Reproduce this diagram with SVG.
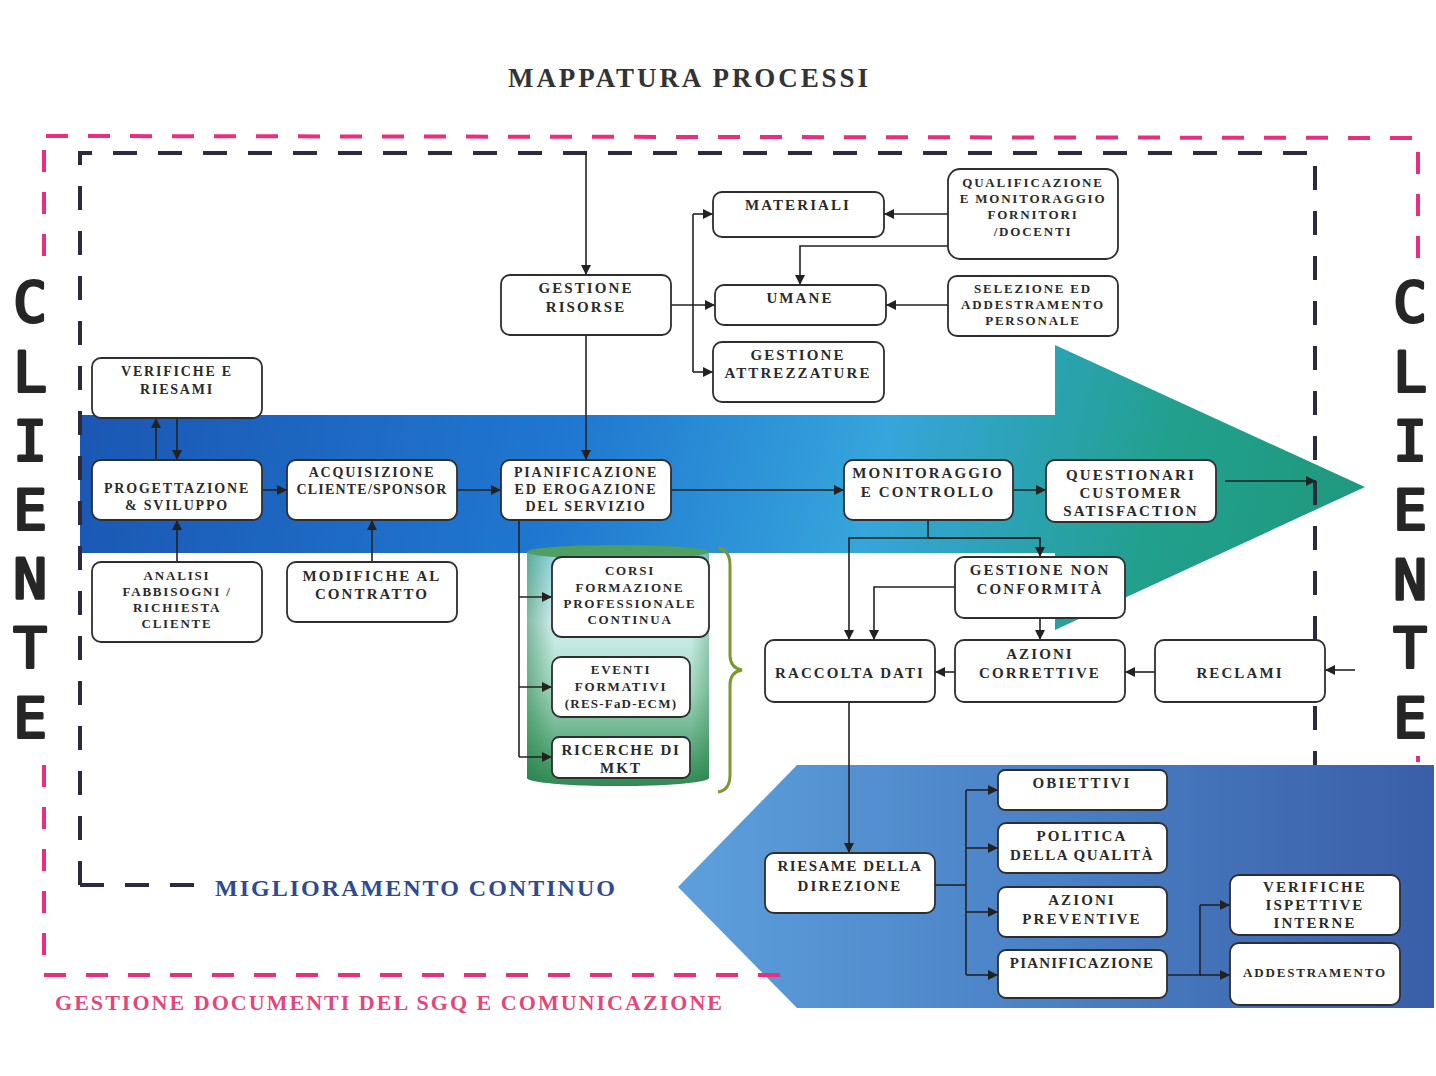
<svg xmlns="http://www.w3.org/2000/svg" width="1436" height="1076" viewBox="0 0 1436 1076">
<style>
.n{fill:#fff;stroke:#2e2e2e;stroke-width:1.8}
.t{font-family:"Liberation Serif","Times New Roman",serif;font-weight:bold;font-size:14px;letter-spacing:1.8px;fill:#2a2a2a;text-anchor:middle}
.s{font-size:13px;letter-spacing:1.8px}
.b{font-size:15px;letter-spacing:2.1px}
.c{fill:none;stroke:#222;stroke-width:1.6}
.ca{fill:none;stroke:#222;stroke-width:1.6;marker-end:url(#ah)}
.pk{fill:none;stroke:#ea2d7c;stroke-width:4;stroke-dasharray:22 20}
.dk{fill:none;stroke:#2b2a3e;stroke-width:4;stroke-dasharray:24 21}
.cl{font-family:"DejaVu Sans Mono",monospace;font-size:56px;fill:#262626;stroke:#262626;stroke-width:3;stroke-linejoin:round;text-anchor:middle}
</style>
<defs>
<marker id="ah" viewBox="0 0 10 10" refX="10" refY="5" markerWidth="11" markerHeight="10" markerUnits="userSpaceOnUse" orient="auto"><path d="M0,0 L10,5 L0,10 z" fill="#222"/></marker>
<linearGradient id="band" gradientUnits="userSpaceOnUse" x1="80" y1="350" x2="1300" y2="640">
<stop offset="0" stop-color="#1a56b2"/><stop offset="0.4" stop-color="#2078d0"/><stop offset="0.64" stop-color="#36a5dc"/><stop offset="0.86" stop-color="#22a08e"/><stop offset="1" stop-color="#1f9a80"/>
</linearGradient>
<linearGradient id="barrow" gradientUnits="userSpaceOnUse" x1="678" y1="0" x2="1436" y2="0">
<stop offset="0" stop-color="#5d9fdc"/><stop offset="0.5" stop-color="#4a80c4"/><stop offset="1" stop-color="#3a5ea8"/>
</linearGradient>
<linearGradient id="cyl" x1="0" y1="0" x2="0" y2="1">
<stop offset="0" stop-color="#8fd4e2"/><stop offset="0.3" stop-color="#d4f0f2"/><stop offset="0.6" stop-color="#9fd6bc"/><stop offset="1" stop-color="#2e8a52"/>
</linearGradient>
<linearGradient id="cylh" x1="0" y1="0" x2="1" y2="0">
<stop offset="0" stop-color="#1f7a40" stop-opacity="0.45"/><stop offset="0.15" stop-color="#1f7a40" stop-opacity="0"/><stop offset="0.9" stop-color="#1f7a40" stop-opacity="0"/><stop offset="1" stop-color="#1f7a40" stop-opacity="0.3"/>
</linearGradient>
</defs>
<rect width="1436" height="1076" fill="#fff"/>

<text x="508" y="87" textLength="360" lengthAdjust="spacing" style="font-family:'Liberation Serif',serif;font-weight:bold;font-size:27px;fill:#333">MAPPATURA PROCESSI</text>

<!-- background shapes -->
<polygon points="80,415 1055,415 1055,345 1365,487 1055,630 1055,553 80,553" fill="url(#band)"/>
<polygon points="678,887 797,765 1434,765 1434,1008 797,1008" fill="url(#barrow)"/>
<g id="cylinder">
<path d="M527,552 L527,778 A91,8 0 0 0 709,778 L709,552 Z" fill="url(#cyl)"/>
<path d="M527,552 L527,778 A91,8 0 0 0 709,778 L709,552 Z" fill="url(#cylh)"/>
<ellipse cx="618" cy="552" rx="91" ry="7" fill="#4f9e62"/>
</g>
<path d="M718,548 Q730,550 730,565 L730,655 Q730,668 742,670 Q730,672 730,685 L730,775 Q730,790 718,792" fill="none" stroke="#7a9a2e" stroke-width="3"/>

<!-- borders -->
<g id="borders">
<path class="pk" d="M46,136 L1418,138 L1418,262"/>
<path class="pk" d="M44,150 L44,262"/>
<path class="pk" d="M44,765 L44,975 L800,975"/>
<path class="pk" d="M1418,756 L1418,762"/>
<path class="dk" d="M80,885 L80,153 L1315,153 L1315,765"/>
<path class="dk" d="M80,885 L200,885"/>
</g>

<g id="cliente-left">
<text class="cl"><tspan x="30" y="321">C</tspan><tspan x="30" y="391">L</tspan><tspan x="30" y="460">I</tspan><tspan x="30" y="529">E</tspan><tspan x="30" y="598">N</tspan><tspan x="30" y="667">T</tspan><tspan x="30" y="737">E</tspan></text>
</g>
<g id="cliente-right">
<text class="cl"><tspan x="1410" y="321">C</tspan><tspan x="1410" y="391">L</tspan><tspan x="1410" y="460">I</tspan><tspan x="1410" y="529">E</tspan><tspan x="1410" y="599">N</tspan><tspan x="1410" y="667">T</tspan><tspan x="1410" y="737">E</tspan></text>
</g>

<text x="215" y="896" textLength="400" lengthAdjust="spacing" style="font-family:'Liberation Serif',serif;font-weight:bold;font-size:24px;fill:#2e4b8e">MIGLIORAMENTO CONTINUO</text>
<text x="55" y="1010" textLength="667" lengthAdjust="spacing" style="font-family:'Liberation Serif',serif;font-weight:bold;font-size:22px;fill:#e4467c">GESTIONE DOCUMENTI DEL SGQ E COMUNICAZIONE</text>

<!-- connectors -->
<g id="connectors">
<path class="ca" d="M586,153 L586,275"/>
<path class="ca" d="M586,335 L586,460"/>
<path class="ca" d="M671,305 L715,305"/>
<path class="c" d="M693,214 L693,372"/>
<path class="ca" d="M693,214 L713,214"/>
<path class="ca" d="M693,372 L713,372"/>
<path class="ca" d="M948,214 L884,214"/>
<path class="ca" d="M948,246 L800,246 L800,285"/>
<path class="ca" d="M948,305 L886,305"/>
<path class="ca" d="M156,460 L156,418"/>
<path class="ca" d="M177,418 L177,460"/>
<path class="ca" d="M177,562 L177,520"/>
<path class="ca" d="M262,490 L287,490"/>
<path class="ca" d="M372,562 L372,520"/>
<path class="ca" d="M457,490 L501,490"/>
<path class="ca" d="M671,490 L844,490"/>
<path class="ca" d="M1013,490 L1046,490"/>
<path class="ca" d="M1225,481 L1316,481"/>
<path class="c" d="M519,520 L519,757"/>
<path class="ca" d="M519,597 L552,597"/>
<path class="ca" d="M519,687 L552,687"/>
<path class="ca" d="M519,757 L552,757"/>
<path class="c" d="M928,520 L928,538"/>
<path class="ca" d="M1040,538 L849,538 L849,640"/>
<path class="ca" d="M928,538 L1040,538 L1040,557"/>
<path class="ca" d="M955,587 L874,587 L874,640"/>
<path class="ca" d="M1040,618 L1040,640"/>
<path class="ca" d="M955,672 L935,672"/>
<path class="ca" d="M1155,672 L1125,672"/>
<path class="ca" d="M1355,670 L1325,670"/>
<path class="ca" d="M849,702 L849,853"/>
<path class="c" d="M935,885 L966,885"/>
<path class="c" d="M966,790 L966,975"/>
<path class="ca" d="M966,790 L998,790"/>
<path class="ca" d="M966,848 L998,848"/>
<path class="ca" d="M966,912 L998,912"/>
<path class="ca" d="M966,975 L998,975"/>
<path class="c" d="M1167,975 L1200,975 L1200,905"/>
<path class="ca" d="M1200,905 L1230,905"/>
<path class="ca" d="M1200,975 L1230,975"/>
</g>

<!-- nodes -->
<g id="verifiche-riesami"><rect class="n" x="92" y="358" width="170" height="60" rx="9"/><text class="t" x="177" y="376">VERIFICHE E</text><text class="t" x="177" y="394">RIESAMI</text></g>
<g id="progettazione"><rect class="n" x="92" y="460" width="170" height="60" rx="9"/><text class="t" x="177" y="493">PROGETTAZIONE</text><text class="t" x="177" y="510">&amp; SVILUPPO</text></g>
<g id="analisi"><rect class="n" x="92" y="562" width="170" height="80" rx="9"/><text class="t s" x="177" y="580">ANALISI</text><text class="t s" x="177" y="596">FABBISOGNI /</text><text class="t s" x="177" y="612">RICHIESTA</text><text class="t s" x="177" y="628">CLIENTE</text></g>
<g id="acquisizione"><rect class="n" x="287" y="460" width="170" height="60" rx="9"/><text class="t" x="372" y="477">ACQUISIZIONE</text><text class="t" x="372" y="494" style="letter-spacing:1.2px">CLIENTE/SPONSOR</text></g>
<g id="modifiche"><rect class="n" x="287" y="562" width="170" height="60" rx="9"/><text class="t b" x="372" y="581">MODIFICHE AL</text><text class="t b" x="372" y="599">CONTRATTO</text></g>
<g id="gestione-risorse"><rect class="n" x="501" y="275" width="170" height="60" rx="9"/><text class="t b" x="586" y="293">GESTIONE</text><text class="t b" x="586" y="312">RISORSE</text></g>
<g id="pianificazione-erogazione"><rect class="n" x="501" y="460" width="170" height="60" rx="9"/><text class="t" x="586" y="477">PIANIFICAZIONE</text><text class="t" x="586" y="494">ED EROGAZIONE</text><text class="t" x="586" y="511">DEL SERVIZIO</text></g>
<g id="materiali"><rect class="n" x="713" y="192" width="171" height="45" rx="9"/><text class="t b" x="798" y="210">MATERIALI</text></g>
<g id="umane"><rect class="n" x="715" y="285" width="171" height="40" rx="9"/><text class="t b" x="800" y="303">UMANE</text></g>
<g id="attrezzature"><rect class="n" x="713" y="342" width="171" height="60" rx="9"/><text class="t b" x="798" y="360">GESTIONE</text><text class="t b" x="798" y="378">ATTREZZATURE</text></g>
<g id="qualificazione"><rect class="n" x="948" y="169" width="170" height="90" rx="12"/><text class="t s" x="1033" y="187">QUALIFICAZIONE</text><text class="t s" x="1033" y="203">E MONITORAGGIO</text><text class="t s" x="1033" y="219">FORNITORI</text><text class="t s" x="1033" y="236">/DOCENTI</text></g>
<g id="selezione"><rect class="n" x="948" y="276" width="170" height="60" rx="9"/><text class="t s" x="1033" y="293">SELEZIONE ED</text><text class="t s" x="1033" y="309">ADDESTRAMENTO</text><text class="t s" x="1033" y="325">PERSONALE</text></g>
<g id="monitoraggio"><rect class="n" x="844" y="460" width="169" height="60" rx="9"/><text class="t b" x="928" y="478">MONITORAGGIO</text><text class="t b" x="928" y="497">E CONTROLLO</text></g>
<g id="questionari"><rect class="n" x="1046" y="460" width="170" height="62" rx="9"/><text class="t b" x="1131" y="480">QUESTIONARI</text><text class="t b" x="1131" y="498">CUSTOMER</text><text class="t b" x="1131" y="516">SATISFACTION</text></g>
<g id="gestione-nc"><rect class="n" x="955" y="557" width="170" height="61" rx="9"/><text class="t b" x="1040" y="575">GESTIONE NON</text><text class="t b" x="1040" y="594">CONFORMITÀ</text></g>
<g id="raccolta-dati"><rect class="n" x="765" y="640" width="170" height="62" rx="9"/><text class="t b" x="850" y="678">RACCOLTA DATI</text></g>
<g id="azioni-correttive"><rect class="n" x="955" y="640" width="170" height="62" rx="9"/><text class="t b" x="1040" y="659">AZIONI</text><text class="t b" x="1040" y="678">CORRETTIVE</text></g>
<g id="reclami"><rect class="n" x="1155" y="640" width="170" height="62" rx="9"/><text class="t b" x="1240" y="678">RECLAMI</text></g>
<g id="corsi"><rect class="n" x="552" y="557" width="157" height="80" rx="10"/><text class="t s" x="630" y="575">CORSI</text><text class="t s" x="630" y="592">FORMAZIONE</text><text class="t s" x="630" y="608">PROFESSIONALE</text><text class="t s" x="630" y="624">CONTINUA</text></g>
<g id="eventi"><rect class="n" x="552" y="657" width="138" height="60" rx="9"/><text class="t s" x="621" y="674">EVENTI</text><text class="t s" x="621" y="691">FORMATIVI</text><text class="t s" x="621" y="708" style="letter-spacing:1.2px">(RES-FaD-ECM)</text></g>
<g id="ricerche"><rect class="n" x="552" y="737" width="138" height="41" rx="7"/><text class="t b" x="621" y="755" style="letter-spacing:1.6px">RICERCHE DI</text><text class="t b" x="621" y="773">MKT</text></g>
<g id="riesame"><rect class="n" x="765" y="853" width="170" height="60" rx="9"/><text class="t b" x="850" y="871" style="letter-spacing:1.5px">RIESAME DELLA</text><text class="t b" x="850" y="891">DIREZIONE</text></g>
<g id="obiettivi"><rect class="n" x="998" y="770" width="169" height="40" rx="7"/><text class="t b" x="1082" y="788">OBIETTIVI</text></g>
<g id="politica"><rect class="n" x="998" y="823" width="169" height="50" rx="8"/><text class="t b" x="1082" y="841">POLITICA</text><text class="t b" x="1082" y="860" style="letter-spacing:1.5px">DELLA QUALITÀ</text></g>
<g id="azioni-preventive"><rect class="n" x="998" y="887" width="169" height="50" rx="8"/><text class="t b" x="1082" y="905">AZIONI</text><text class="t b" x="1082" y="924">PREVENTIVE</text></g>
<g id="pianificazione"><rect class="n" x="998" y="950" width="169" height="48" rx="8"/><text class="t b" x="1082" y="968" style="letter-spacing:1.2px">PIANIFICAZIONE</text></g>
<g id="verifiche-ispettive"><rect class="n" x="1230" y="875" width="170" height="60" rx="9"/><text class="t b" x="1315" y="892">VERIFICHE</text><text class="t b" x="1315" y="910">ISPETTIVE</text><text class="t b" x="1315" y="928">INTERNE</text></g>
<g id="addestramento"><rect class="n" x="1230" y="943" width="170" height="62" rx="9"/><text class="t s" x="1315" y="977">ADDESTRAMENTO</text></g>
</svg>
